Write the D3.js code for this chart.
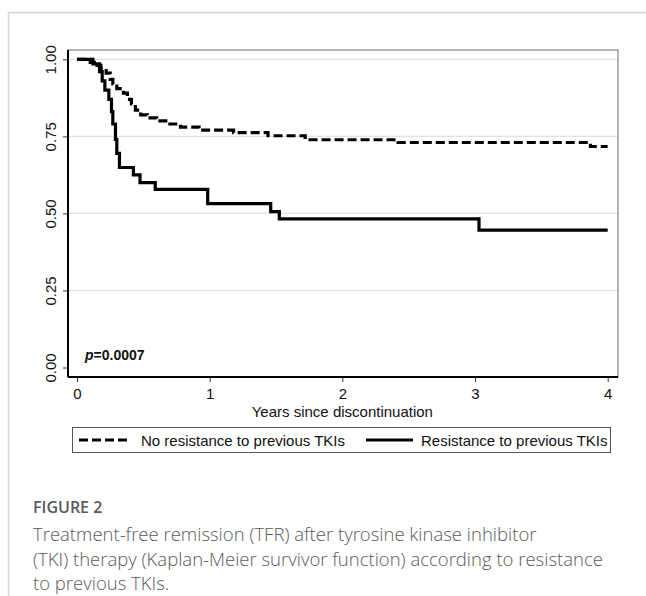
<!DOCTYPE html>
<html>
<head>
<meta charset="utf-8">
<script src="https://cdn.jsdelivr.net/npm/d3@7"></script>
<style>
  body { margin: 0; background: #fff; }
  svg { display: block; }
</style>
</head>
<body>
<svg id="chart" width="646" height="596"></svg>
<script>
// Kaplan-Meier steps
const noResTime = [0, 0.10, 0.15, 0.18, 0.22, 0.25, 0.27, 0.30, 0.35, 0.38, 0.41, 0.44, 0.48, 0.53, 0.60, 0.70, 0.78, 0.92, 1.18, 1.44, 1.72, 2.42, 3.87, 4.0];
const noResSurv = [1.0, 0.99, 0.98, 0.97, 0.955, 0.935, 0.92, 0.905, 0.89, 0.87, 0.855, 0.835, 0.82, 0.81, 0.80, 0.79, 0.78, 0.77, 0.762, 0.752, 0.739, 0.730, 0.717, 0.717];
const resTime = [0, 0.12, 0.17, 0.19, 0.21, 0.24, 0.26, 0.27, 0.29, 0.30, 0.32, 0.425, 0.475, 0.59, 0.985, 1.46, 1.525, 3.03, 4.0];
const resSurv = [1.0, 0.985, 0.96, 0.93, 0.90, 0.87, 0.83, 0.79, 0.74, 0.695, 0.649, 0.625, 0.600, 0.578, 0.532, 0.506, 0.482, 0.446, 0.446];

const xTicks = [0, 1, 2, 3, 4];
const yTicks = [0, 0.25, 0.5, 0.75, 1];
const legendLabels = ["No resistance to previous TKIs", "Resistance to previous TKIs"];
const pText = "=0.0007";
const xTitle = "Years since discontinuation";
const figLabel = "FIGURE 2";
const captionLines = [
  "Treatment-free remission (TFR) after tyrosine kinase inhibitor",
  "(TKI) therapy (Kaplan-Meier survivor function) according to resistance",
  "to previous TKIs."
];

const svg = d3.select("#chart");
const axisFont = "Liberation Sans, Arial, sans-serif";

// 외곽 패널 테두리
svg.append("line").attr("x1", 8).attr("x2", 646).attr("y1", 12.5).attr("y2", 12.5)
  .style("stroke", "#d4d4d4").style("stroke-width", 1.5);
svg.append("line").attr("x1", 8.5).attr("x2", 8.5).attr("y1", 12).attr("y2", 596)
  .style("stroke", "#d4d4d4").style("stroke-width", 1.5);

// plot 영역
const plot = {left: 68, right: 618, top: 50, bottom: 377};
const x = d3.scaleLinear().domain([0, 4]).range([77, 607.7]);
const y = d3.scaleLinear().domain([0, 1]).range([367.5, 59.3]);

// gridlines
svg.append("g").selectAll("line.grid")
  .data(yTicks.filter(d => d > 0))
  .join("line")
  .attr("class", "grid")
  .attr("x1", plot.left).attr("x2", plot.right)
  .attr("y1", d => y(d)).attr("y2", d => y(d))
  .style("stroke", "#e2e2e2").style("stroke-width", 1.2);

// frame
svg.append("rect")
  .attr("x", plot.left).attr("y", plot.top)
  .attr("width", plot.right - plot.left).attr("height", plot.bottom - plot.top)
  .style("fill", "none").style("stroke", "#6a6a6a").style("stroke-width", 1);

// axes
const yAxis = d3.axisLeft(y).tickValues(yTicks).tickFormat(d3.format(".2f")).tickSize(5);
const gy = svg.append("g").attr("transform", `translate(${plot.left},0)`).call(yAxis);
gy.select(".domain").remove();
gy.append("line").attr("x1", 0).attr("x2", 0).attr("y1", plot.top).attr("y2", plot.bottom)
  .style("stroke", "#000").style("stroke-width", 2);
gy.selectAll(".tick line").style("stroke", "#333");
gy.selectAll(".tick text")
  .attr("transform", "rotate(-90)")
  .attr("x", 0).attr("y", -12)
  .attr("dy", 0)
  .style("text-anchor", "middle")
  .style("font-family", axisFont)
  .style("font-size", "15px")
  .style("fill", "#111");

const xAxis = d3.axisBottom(x).tickValues(xTicks).tickFormat(d3.format("d")).tickSize(5).tickPadding(6);
const gx = svg.append("g").attr("transform", `translate(0,${plot.bottom})`).call(xAxis);
gx.select(".domain").remove();
gx.append("line").attr("x1", plot.left).attr("x2", plot.right).attr("y1", 0).attr("y2", 0)
  .style("stroke", "#000").style("stroke-width", 2);
gx.selectAll(".tick line").style("stroke", "#333");
gx.selectAll(".tick text")
  .style("font-family", axisFont)
  .style("font-size", "15px")
  .style("fill", "#111");

svg.append("text")
  .attr("x", x(2)).attr("y", 417)
  .attr("text-anchor", "middle")
  .style("font-family", axisFont)
  .style("font-size", "15px")
  .style("fill", "#111")
  .text(xTitle);

// curves
const line = d3.line().x(d => x(d[0])).y(d => y(d[1])).curve(d3.curveStepAfter);
const noRes = d3.zip(noResTime, noResSurv);
const res = d3.zip(resTime, resSurv);

svg.append("path").datum(res)
  .attr("d", line)
  .style("fill", "none").style("stroke", "#000").style("stroke-width", 3.2);
svg.append("path").datum(noRes)
  .attr("d", line)
  .style("fill", "none").style("stroke", "#000").style("stroke-width", 3.2)
  .style("stroke-dasharray", "9,4");

// p value
const pLabel = svg.append("text")
  .attr("x", 85).attr("y", 360)
  .style("font-family", axisFont)
  .style("font-size", "14px")
  .style("font-weight", "bold")
  .style("fill", "#111");
pLabel.append("tspan").style("font-style", "italic").text("p");
pLabel.append("tspan").text(pText);

// legend
const legend = svg.append("g");
legend.append("rect")
  .attr("x", 72.5).attr("y", 427.5).attr("width", 538).attr("height", 25)
  .style("fill", "#fff").style("stroke", "#555").style("stroke-width", 1);
legend.append("line")
  .attr("x1", 79).attr("x2", 127).attr("y1", 440).attr("y2", 440)
  .style("stroke", "#000").style("stroke-width", 3.2).style("stroke-dasharray", "9,4");
legend.append("text")
  .attr("x", 141).attr("y", 445.5)
  .style("font-family", axisFont)
  .style("font-size", "15px").style("fill", "#111")
  .text(legendLabels[0]);
legend.append("line")
  .attr("x1", 366).attr("x2", 413).attr("y1", 440).attr("y2", 440)
  .style("stroke", "#000").style("stroke-width", 3.2);
legend.append("text")
  .attr("x", 421).attr("y", 445.5)
  .style("font-family", axisFont)
  .style("font-size", "15px").style("fill", "#111")
  .text(legendLabels[1]);

// caption
svg.append("text")
  .attr("x", 33).attr("y", 513)
  .style("font-family", "Open Sans, sans-serif")
  .style("font-size", "16px").style("font-weight", "600")
  .style("fill", "#595959")
  .text(figLabel);
svg.append("g").selectAll("text.cap")
  .data(captionLines)
  .join("text")
  .attr("class", "cap")
  .attr("x", 33)
  .attr("y", (d, i) => 541 + i * 24.5)
  .style("font-family", "Open Sans, sans-serif")
  .style("font-size", "18.5px").style("font-weight", "300")
  .style("fill", "#5a5a5a")
  .text(d => d);
</script>
</body>
</html>
